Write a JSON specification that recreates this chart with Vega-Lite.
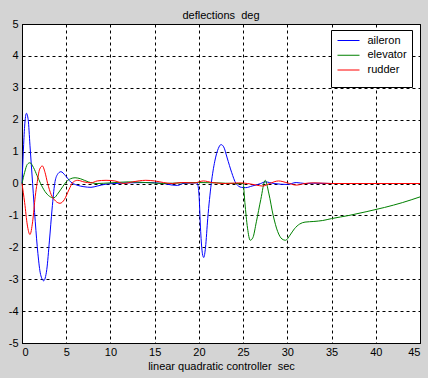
{
  "$schema": "https://vega.github.io/schema/vega-lite/v6.json",
  "autosize": "none",
  "width": 398,
  "height": 319,
  "padding": {"left": 22, "top": 24, "right": 8, "bottom": 35},
  "background": "#d4d4d4",
  "title": {"text": "deflections\u00a0 deg", "fontSize": 11, "fontWeight": "normal", "font": "Liberation Sans", "color": "black", "offset": 1, "dy": 4},
  "config": {
    "view": {"fill": "white", "stroke": "black", "strokeWidth": 1},
    "axis": {
      "domainColor": "black", "grid": true, "gridColor": "black", "gridDash": [3, 3], "gridOpacity": 1, "zindex": 0,
      "ticks": false, "labelFont": "Liberation Sans", "labelFontSize": 11, "labelColor": "black",
      "titleFont": "Liberation Sans", "titleFontSize": 11, "titleFontWeight": "normal", "titleColor": "black"
    }
  },
  "data": {"values": [
    {"t":0,"v":0,"s":"aileron"},{"t":0.15,"v":1.0,"s":"aileron"},{"t":0.3,"v":1.8,"s":"aileron"},{"t":0.5,"v":2.2,"s":"aileron"},{"t":0.7,"v":2.0,"s":"aileron"},{"t":0.9,"v":1.2,"s":"aileron"},{"t":1.2,"v":0.0,"s":"aileron"},{"t":1.5,"v":-1.2,"s":"aileron"},{"t":1.8,"v":-2.2,"s":"aileron"},{"t":2.1,"v":-2.85,"s":"aileron"},{"t":2.45,"v":-3.05,"s":"aileron"},{"t":2.8,"v":-2.7,"s":"aileron"},{"t":3.1,"v":-1.8,"s":"aileron"},{"t":3.4,"v":-0.8,"s":"aileron"},{"t":3.7,"v":0.0,"s":"aileron"},{"t":4.0,"v":0.28,"s":"aileron"},{"t":4.4,"v":0.37,"s":"aileron"},{"t":4.9,"v":0.25,"s":"aileron"},{"t":5.5,"v":0.05,"s":"aileron"},{"t":6.2,"v":-0.05,"s":"aileron"},{"t":7.0,"v":-0.1,"s":"aileron"},{"t":7.8,"v":-0.12,"s":"aileron"},{"t":8.5,"v":-0.08,"s":"aileron"},{"t":9.5,"v":-0.02,"s":"aileron"},{"t":10.5,"v":0.0,"s":"aileron"},{"t":12,"v":0.02,"s":"aileron"},{"t":14,"v":0.03,"s":"aileron"},{"t":16,"v":0.0,"s":"aileron"},{"t":17,"v":-0.05,"s":"aileron"},{"t":17.6,"v":-0.06,"s":"aileron"},{"t":18.2,"v":0.0,"s":"aileron"},{"t":19.8,"v":0.02,"s":"aileron"},{"t":20.0,"v":-0.3,"s":"aileron"},{"t":20.2,"v":-1.5,"s":"aileron"},{"t":20.4,"v":-2.2,"s":"aileron"},{"t":20.55,"v":-2.32,"s":"aileron"},{"t":20.75,"v":-2.0,"s":"aileron"},{"t":21.0,"v":-1.1,"s":"aileron"},{"t":21.4,"v":0.0,"s":"aileron"},{"t":21.8,"v":0.7,"s":"aileron"},{"t":22.2,"v":1.1,"s":"aileron"},{"t":22.5,"v":1.22,"s":"aileron"},{"t":22.8,"v":1.15,"s":"aileron"},{"t":23.2,"v":0.8,"s":"aileron"},{"t":23.7,"v":0.35,"s":"aileron"},{"t":24.2,"v":0.0,"s":"aileron"},{"t":24.8,"v":-0.12,"s":"aileron"},{"t":25.3,"v":-0.13,"s":"aileron"},{"t":26,"v":-0.08,"s":"aileron"},{"t":27,"v":0.0,"s":"aileron"},{"t":27.5,"v":0.05,"s":"aileron"},{"t":28.5,"v":0.0,"s":"aileron"},{"t":30,"v":-0.03,"s":"aileron"},{"t":31,"v":0.03,"s":"aileron"},{"t":32,"v":0.0,"s":"aileron"},{"t":33,"v":0.01,"s":"aileron"},{"t":35,"v":0,"s":"aileron"},{"t":45,"v":0,"s":"aileron"},
    {"t":0,"v":0,"s":"elevator"},{"t":0.3,"v":0.35,"s":"elevator"},{"t":0.6,"v":0.6,"s":"elevator"},{"t":0.9,"v":0.65,"s":"elevator"},{"t":1.3,"v":0.5,"s":"elevator"},{"t":1.7,"v":0.25,"s":"elevator"},{"t":2.1,"v":0.0,"s":"elevator"},{"t":2.6,"v":-0.25,"s":"elevator"},{"t":3.1,"v":-0.4,"s":"elevator"},{"t":3.6,"v":-0.45,"s":"elevator"},{"t":4.1,"v":-0.3,"s":"elevator"},{"t":4.6,"v":-0.1,"s":"elevator"},{"t":5.0,"v":0.05,"s":"elevator"},{"t":5.5,"v":0.15,"s":"elevator"},{"t":6.0,"v":0.18,"s":"elevator"},{"t":6.6,"v":0.15,"s":"elevator"},{"t":7.5,"v":0.05,"s":"elevator"},{"t":8.5,"v":0.0,"s":"elevator"},{"t":10,"v":0.02,"s":"elevator"},{"t":12,"v":0.05,"s":"elevator"},{"t":14,"v":0.03,"s":"elevator"},{"t":16,"v":0.0,"s":"elevator"},{"t":18,"v":0.02,"s":"elevator"},{"t":20,"v":0.03,"s":"elevator"},{"t":22,"v":0.02,"s":"elevator"},{"t":24,"v":0.0,"s":"elevator"},{"t":25.0,"v":0.0,"s":"elevator"},{"t":25.2,"v":-0.6,"s":"elevator"},{"t":25.5,"v":-1.4,"s":"elevator"},{"t":25.8,"v":-1.78,"s":"elevator"},{"t":26.1,"v":-1.7,"s":"elevator"},{"t":26.5,"v":-1.2,"s":"elevator"},{"t":27.0,"v":-0.5,"s":"elevator"},{"t":27.5,"v":0.1,"s":"elevator"},{"t":27.9,"v":-0.3,"s":"elevator"},{"t":28.4,"v":-1.0,"s":"elevator"},{"t":28.9,"v":-1.5,"s":"elevator"},{"t":29.4,"v":-1.74,"s":"elevator"},{"t":29.8,"v":-1.78,"s":"elevator"},{"t":30.3,"v":-1.62,"s":"elevator"},{"t":30.8,"v":-1.42,"s":"elevator"},{"t":31.4,"v":-1.27,"s":"elevator"},{"t":32.0,"v":-1.21,"s":"elevator"},{"t":33.0,"v":-1.19,"s":"elevator"},{"t":34.0,"v":-1.16,"s":"elevator"},{"t":35.0,"v":-1.1,"s":"elevator"},{"t":37.0,"v":-1.0,"s":"elevator"},{"t":39.0,"v":-0.88,"s":"elevator"},{"t":41.0,"v":-0.75,"s":"elevator"},{"t":43.0,"v":-0.6,"s":"elevator"},{"t":45.0,"v":-0.42,"s":"elevator"},
    {"t":0,"v":0,"s":"rudder"},{"t":0.3,"v":-0.6,"s":"rudder"},{"t":0.6,"v":-1.3,"s":"rudder"},{"t":0.9,"v":-1.6,"s":"rudder"},{"t":1.2,"v":-1.2,"s":"rudder"},{"t":1.5,"v":-0.4,"s":"rudder"},{"t":1.7,"v":0.0,"s":"rudder"},{"t":2.0,"v":0.45,"s":"rudder"},{"t":2.3,"v":0.55,"s":"rudder"},{"t":2.6,"v":0.35,"s":"rudder"},{"t":2.9,"v":0.0,"s":"rudder"},{"t":3.3,"v":-0.35,"s":"rudder"},{"t":3.8,"v":-0.55,"s":"rudder"},{"t":4.3,"v":-0.62,"s":"rudder"},{"t":4.8,"v":-0.5,"s":"rudder"},{"t":5.3,"v":-0.2,"s":"rudder"},{"t":5.8,"v":0.05,"s":"rudder"},{"t":6.3,"v":0.1,"s":"rudder"},{"t":7.0,"v":0.05,"s":"rudder"},{"t":7.8,"v":0.02,"s":"rudder"},{"t":8.5,"v":0.08,"s":"rudder"},{"t":9.5,"v":0.1,"s":"rudder"},{"t":10.5,"v":0.08,"s":"rudder"},{"t":11.5,"v":0.0,"s":"rudder"},{"t":12.5,"v":0.05,"s":"rudder"},{"t":14,"v":0.1,"s":"rudder"},{"t":15,"v":0.08,"s":"rudder"},{"t":16,"v":0.03,"s":"rudder"},{"t":17,"v":0.0,"s":"rudder"},{"t":18,"v":0.03,"s":"rudder"},{"t":19.5,"v":0.02,"s":"rudder"},{"t":20.5,"v":0.08,"s":"rudder"},{"t":21.5,"v":0.03,"s":"rudder"},{"t":23,"v":0.0,"s":"rudder"},{"t":24.5,"v":0.02,"s":"rudder"},{"t":25.5,"v":0.0,"s":"rudder"},{"t":26.5,"v":-0.05,"s":"rudder"},{"t":27.2,"v":-0.08,"s":"rudder"},{"t":28,"v":0.0,"s":"rudder"},{"t":29,"v":0.08,"s":"rudder"},{"t":30,"v":0.02,"s":"rudder"},{"t":31,"v":-0.05,"s":"rudder"},{"t":32,"v":0.0,"s":"rudder"},{"t":33,"v":0.02,"s":"rudder"},{"t":35,"v":0,"s":"rudder"},{"t":45,"v":0,"s":"rudder"}
  ]},
  "mark": {"type": "line", "strokeWidth": 1, "interpolate": "monotone"},
  "encoding": {
    "x": {"field": "t", "type": "quantitative", "scale": {"domain": [0, 45], "nice": false},
      "axis": {"values": [0,5,10,15,20,25,30,35,40,45], "title": "linear quadratic controller\u00a0 sec", "labelPadding": 3, "titlePadding": 3, "labelExpr": "'' + datum.value"}},
    "y": {"field": "v", "type": "quantitative", "scale": {"domain": [-5, 5], "nice": false},
      "axis": {"values": [-5,-4,-3,-2,-1,0,1,2,3,4,5], "title": null, "labelPadding": 4, "labelExpr": "'' + datum.value"}},
    "color": {"field": "s", "type": "nominal",
      "scale": {"domain": ["aileron", "elevator", "rudder"], "range": ["#0000ff", "#008000", "#ff0000"]},
      "legend": {"title": "\u00a0\u00a0\u00a0\u00a0\u00a0\u00a0\u00a0\u00a0\u00a0\u00a0\u00a0\u00a0\u00a0\u00a0\u00a0\u00a0\u00a0\u00a0\u00a0\u00a0\u00a0\u00a0\u00a0\u00a0\u00a0\u00a0\u00a0\u00a0\u00a0\u00a0\u00a0\u00a0\u00a0\u00a0\u00a0\u00a0\u00a0\u00a0\u00a0\u00a0\u00a0\u00a0\u00a0\u00a0\u00a0\u00a0",
        "titleOrient": "bottom", "titleFontSize": 6, "titlePadding": 1, "titleLimit": 200,
        "orient": "none", "legendX": 309, "legendY": 6, "fillColor": "white", "strokeColor": "black",
        "padding": 4.5, "symbolType": "M-2,0H2", "symbolSize": 121, "symbolStrokeWidth": 1, "rowPadding": 3.75,
        "labelFont": "Liberation Sans", "labelFontSize": 11, "labelColor": "black", "labelOffset": 13, "symbolOffset": 7}}
  }
}
